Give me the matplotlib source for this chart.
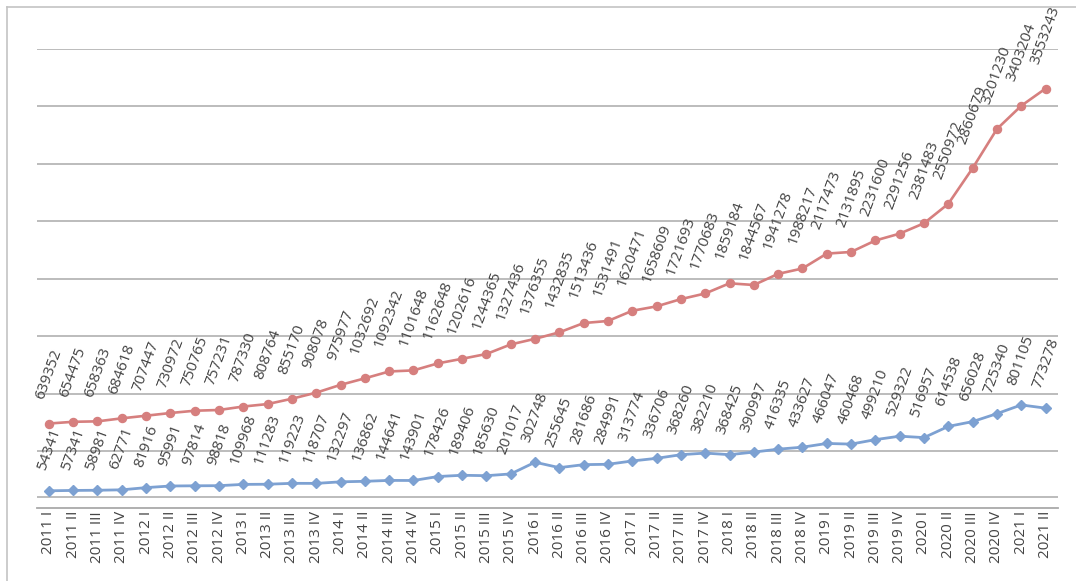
import matplotlib
matplotlib.use('Agg')
import matplotlib.pyplot as plt
from matplotlib.lines import Line2D

years = list(range(2011, 2022))
roman = ['I', 'II', 'III', 'IV']
quarters = [f'{y} {q}' for y in years for q in roman][:42]

# top series (red, circles)
red_vals = [639352, 654475, 658363, 684618, 707447, 730972, 750765, 757231,
            787330, 808764, 855170, 908078, 975977, 1032692, 1092342, 1101648,
            1162648, 1202616, 1244365, 1327436, 1376355, 1432835, 1513436,
            1531491, 1620471, 1658609, 1721693, 1770683, 1859184, 1844567,
            1941278, 1988217, 2117473, 2131895, 2231600, 2291256, 2381483,
            2550972, 2860679, 3201230, 3403204, 3553243]

# bottom series (blue, diamonds)
blue_vals = [54341, 57341, 58981, 62771, 81916, 95991, 97814, 98818,
             109968, 111283, 119223, 118707, 132297, 136862, 144641, 143901,
             178426, 189406, 185630, 201017, 302748, 255645, 281686, 284991,
             313774, 336706, 368260, 382210, 368425, 390997, 416335, 433627,
             466047, 460468, 499210, 529322, 516957, 614538, 656028, 725340,
             801105, 773278]

grid_vals = [0] + list(range(400000, 3900001, 500000))

RED = '#d67f7e'
BLUE = '#7da1d2'
TXT = '#444444'
GRID = '#a9a9a9'

plt.rcParams['font.family'] = ['Open Sans', 'DejaVu Sans']

fig = plt.figure(figsize=(10.76, 5.81), dpi=100)
ax = fig.add_axes([36.7 / 1076, 1 - 508.3 / 581,
                   (1057.7 - 36.7) / 1076, (508.3 - 48.7) / 581])

x = list(range(len(quarters)))

for g in grid_vals:
    ax.axhline(g, color=GRID, lw=1.1, zorder=1)

ax.plot(x, red_vals, color=RED, lw=1.9, marker='o', markersize=5.8, zorder=3)
ax.plot(x, blue_vals, color=BLUE, lw=2.0, marker='D', markersize=5.4, zorder=3)

for xi, v in zip(x, red_vals):
    ax.annotate(str(v), (xi, v), xytext=(0, 16), textcoords='offset points',
                ha='center', va='bottom', rotation=70, fontsize=11,
                color=TXT, annotation_clip=False)
for xi, v in zip(x, blue_vals):
    ax.annotate(str(v), (xi, v), xytext=(0, 13), textcoords='offset points',
                ha='center', va='bottom', rotation=70, fontsize=11,
                color=TXT, annotation_clip=False)

ax.set_xlim(-0.5, len(quarters) - 0.5)
ax.set_ylim(-98000, 3900000)
ax.set_xticks(x)
ax.set_xticklabels(quarters, rotation=90, fontsize=11, color=TXT)
ax.tick_params(axis='x', length=0, pad=2)
ax.set_yticks([])
for s in ['top', 'left', 'right']:
    ax.spines[s].set_visible(False)
ax.spines['bottom'].set_color(GRID)
ax.spines['bottom'].set_linewidth(1.3)

# chart frame (left and top edges visible)
fig.add_artist(Line2D([6.5 / 1076, 6.5 / 1076], [0, 1 - 7.3 / 581],
                      color='#c4c4c4', lw=1.2, transform=fig.transFigure))
fig.add_artist(Line2D([6.5 / 1076, 1], [1 - 7.3 / 581, 1 - 7.3 / 581],
                      color='#c4c4c4', lw=1.2, transform=fig.transFigure))

fig.savefig('out.png', dpi=100)
